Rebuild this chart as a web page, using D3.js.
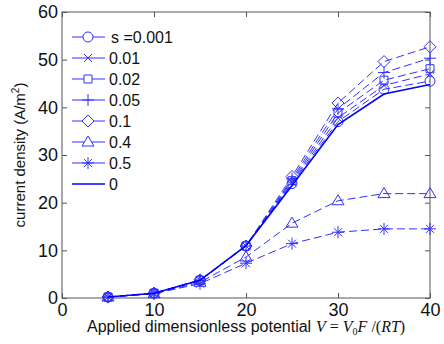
<!DOCTYPE html>
<html>
<head>
<meta charset="utf-8">
<script src="https://cdn.jsdelivr.net/npm/d3@7"></script>
<style>
  body { margin: 0; background: #fff; }
  svg { display: block; }
</style>
</head>
<body>
<div id="chart"></div>
<script>
// potentials where current density was computed
const potentials = [5, 10, 15, 20, 25, 30, 35, 40]

const seriesNames = ['s =0.001', '0.01', '0.02', '0.05', '0.1', '0.4', '0.5', '0']
const seriesMarkers = ['circle', 'x', 'square', 'plus', 'diamond', 'triangle', 'star', 'none']

const s0001 = [0.2, 1.0, 3.7, 10.9, 24.0, 37.0, 43.8, 45.5]
const s001 = [0.2, 1.0, 3.7, 10.9, 24.3, 37.8, 44.6, 47.0]
const s002 = [0.2, 1.0, 3.7, 10.9, 24.6, 38.8, 45.7, 48.1]
const s005 = [0.2, 1.0, 3.7, 10.9, 25.0, 39.7, 47.3, 50.3]
const s01 = [0.2, 1.0, 3.8, 10.9, 25.5, 40.9, 49.6, 52.7]
const s04 = [0.2, 0.9, 3.3, 8.6, 15.7, 20.4, 21.9, 21.9]
const s05 = [0.2, 0.9, 3.0, 7.3, 11.4, 13.8, 14.5, 14.5]
const s0 = [0.2, 1.0, 3.7, 11.0, 23.6, 36.4, 42.8, 44.8]
const seriesValues = [s0001, s001, s002, s005, s01, s04, s05, s0]

const xTicks = [0, 10, 20, 30, 40]
const yTicks = [0, 10, 20, 30, 40, 50, 60]

const width = 444
const height = 344
const margin = { top: 12, right: 14, bottom: 46, left: 62 }
const innerW = width - margin.left - margin.right
const innerH = height - margin.top - margin.bottom

const blue = '#0000ff'
const dashBlue = '#3030ff'

const svg = d3.select('#chart').append('svg')
  .attr('width', width)
  .attr('height', height)
  .style('font-family', 'Arial, "Liberation Sans", sans-serif')

const x = d3.scaleLinear().domain([0, 40]).range([margin.left, margin.left + innerW])
const y = d3.scaleLinear().domain([0, 60]).range([margin.top + innerH, margin.top])

// axes with inward ticks on all four sides
const axisColor = '#555'
function styleAxis(g) {
  g.select('.domain').remove()
  g.selectAll('.tick line').attr('stroke', axisColor)
  g.selectAll('.tick text').attr('fill', '#111').attr('font-size', 18)
}

svg.append('g')
  .attr('transform', `translate(0,${margin.top + innerH})`)
  .call(d3.axisBottom(x).tickValues(xTicks).tickSizeInner(-5).tickSizeOuter(0).tickPadding(5))
  .call(styleAxis)

svg.append('g')
  .attr('transform', `translate(0,${margin.top})`)
  .call(d3.axisTop(x).tickValues(xTicks).tickSizeInner(-5).tickSizeOuter(0).tickFormat(''))
  .call(styleAxis)

svg.append('g')
  .attr('transform', `translate(${margin.left},0)`)
  .call(d3.axisLeft(y).tickValues(yTicks).tickSizeInner(-5).tickSizeOuter(0).tickPadding(4))
  .call(styleAxis)

svg.append('g')
  .attr('transform', `translate(${margin.left + innerW},0)`)
  .call(d3.axisRight(y).tickValues(yTicks).tickSizeInner(-5).tickSizeOuter(0).tickFormat(''))
  .call(styleAxis)

svg.append('rect')
  .attr('x', margin.left)
  .attr('y', margin.top)
  .attr('width', innerW)
  .attr('height', innerH)
  .attr('fill', 'none')
  .attr('stroke', axisColor)
  .attr('stroke-width', 1)

// marker shapes, drawn as paths centred at 0,0
function markerPath(kind) {
  const r = 5
  switch (kind) {
    case 'circle': return d3.symbol(d3.symbolCircle, Math.PI * r * r)()
    case 'square': return `M${-4},${-4}H4V4H-4Z`
    case 'diamond': return `M0,${-6}L6,0L0,6L-6,0Z`
    case 'triangle': return `M0,${-6}L6,4L-6,4Z`
    case 'x': return 'M-4,-4L4,4M-4,4L4,-4'
    case 'plus': return 'M-6,0H6M0,-6V6'
    case 'star': return 'M-6,0H6M0,-6V6M-4,-4L4,4M-4,4L4,-4'
    default: return null
  }
}

const line = d3.line().x((d) => x(d[0])).y((d) => y(d[1]))

const plot = svg.append('g')

seriesNames.forEach((name, i) => {
  const pts = potentials.map((p, j) => [p, seriesValues[i][j]])
  const solid = seriesMarkers[i] === 'none'
  plot.append('path')
    .datum(pts)
    .attr('d', line)
    .attr('fill', 'none')
    .attr('stroke', solid ? blue : dashBlue)
    .attr('stroke-width', solid ? 1.6 : 1)
    .attr('stroke-dasharray', solid ? null : '8,4')

  const mp = markerPath(seriesMarkers[i])
  if (mp) {
    plot.append('g')
      .selectAll('path')
      .data(pts)
      .join('path')
      .attr('transform', (d) => `translate(${x(d[0])},${y(d[1])})`)
      .attr('d', mp)
      .attr('fill', 'none')
      .attr('stroke', dashBlue)
      .attr('stroke-width', 1)
  }
})

// legend
const legend = svg.append('g').attr('transform', 'translate(72,37)')
seriesNames.forEach((name, i) => {
  const row = legend.append('g').attr('transform', `translate(0,${i * 21})`)
  const solid = seriesMarkers[i] === 'none'
  row.append('line')
    .attr('x1', 0).attr('x2', 33)
    .attr('stroke', solid ? blue : dashBlue)
    .attr('stroke-width', solid ? 1.6 : 1)
  const mp = markerPath(seriesMarkers[i])
  if (mp) {
    row.append('path')
      .attr('transform', 'translate(16,0)')
      .attr('d', mp)
      .attr('fill', '#fff')
      .attr('stroke', dashBlue)
      .attr('stroke-width', 1)
  }
  row.append('text')
    .attr('x', i === 0 ? 39 : 37)
    .attr('dy', '0.36em')
    .attr('font-size', 16)
    .attr('fill', '#111')
    .text(name)
})

// y axis label
const yLab = svg.append('text')
  .attr('transform', `translate(25,${margin.top + innerH / 2}) rotate(-90)`)
  .attr('text-anchor', 'middle')
  .attr('font-size', 15)
  .attr('fill', '#111')
yLab.append('tspan').text('current density (A/m')
yLab.append('tspan').attr('font-size', 10).attr('dy', -6).text('2')
yLab.append('tspan').attr('dy', 6).text(')')

// x axis label
svg.append('text')
  .attr('x', 87)
  .attr('y', 332)
  .attr('font-size', 16)
  .attr('fill', '#111')
  .text('Applied dimensionless potential')

const mathT = svg.append('text')
  .attr('x', 316)
  .attr('y', 332)
  .attr('font-size', 16)
  .attr('font-family', '"Liberation Serif", "Times New Roman", serif')
  .attr('fill', '#111')
mathT.append('tspan').attr('font-style', 'italic').text('V')
mathT.append('tspan').text(' = ')
mathT.append('tspan').attr('font-style', 'italic').text('V')
mathT.append('tspan').attr('font-size', 10).attr('dy', 3).text('0')
mathT.append('tspan').attr('dy', -3).attr('font-style', 'italic').text('F')
mathT.append('tspan').text(' /(')
mathT.append('tspan').attr('font-style', 'italic').text('RT')
mathT.append('tspan').text(')')
</script>
</body>
</html>
